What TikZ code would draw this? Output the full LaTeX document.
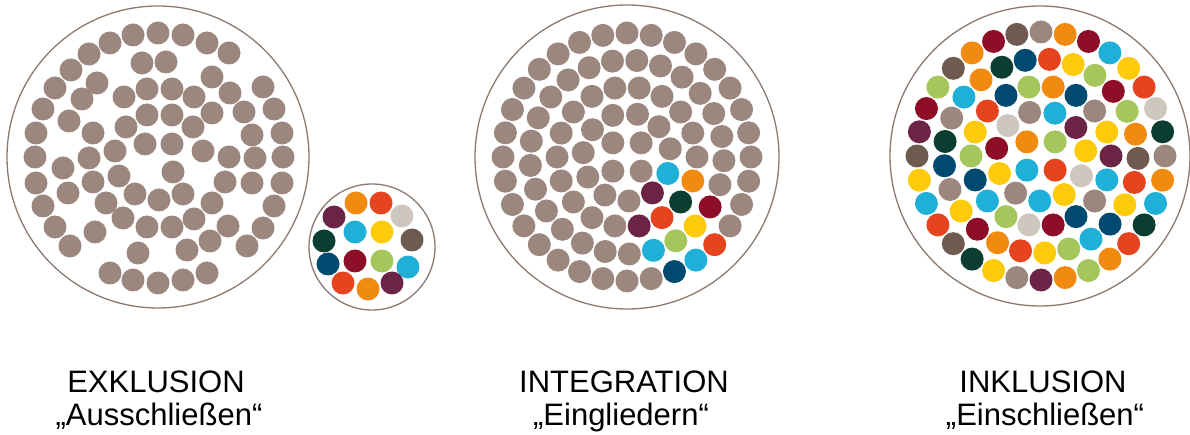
\documentclass[tikz,border=0pt]{standalone}
\usepackage{fontspec}
\setmainfont{Liberation Sans}
\definecolor{rim}{HTML}{8C7A70}
\definecolor{tp}{HTML}{9B877D}
\definecolor{og}{HTML}{F18A10}
\definecolor{ro}{HTML}{E5441F}
\definecolor{cy}{HTML}{1EB0D6}
\definecolor{yl}{HTML}{FDCB0C}
\definecolor{gn}{HTML}{A5C65A}
\definecolor{nv}{HTML}{004A72}
\definecolor{dg}{HTML}{0B3D30}
\definecolor{cr}{HTML}{8E0E28}
\definecolor{pl}{HTML}{6B2446}
\definecolor{lg}{HTML}{CEC7BD}
\definecolor{db}{HTML}{6E5A4E}

% one ring of dots: centre x, centre y, radius, count, start angle, colours
\newcommand\dotring[6]{%
  \foreach \col [count=\k from 0] in {#6}
    \fill[\col] ({#1+#3*cos(#5-\k*360/#4)},{#2-#3*sin(#5-\k*360/#4)}) circle (11.5);
}

\begin{document}
\begin{tikzpicture}[x=1pt, y=-1pt,
    rimline/.style={draw=rim, line width=1.3pt},
    caption/.style={anchor=base, inner sep=0pt, font=\fontsize{31}{36}\selectfont}]
    \useasboundingbox[fill=white] (0,0) rectangle (1190,435);

    % Draw the big circle of the excluded group
    \draw[rimline] (158,157) circle (151);
    \foreach \x/\y in {110/43, 133/35, 158/33, 183/35, 207/43, 229/53, 89/54, 142/63,
        166/62, 71/70, 212/77, 97/83, 55/88, 147/89, 172/89, 263/87, 230/93, 82/99,
        124/97, 194/97, 43/109, 274/109, 147/115, 172/115, 212/113, 244/112, 69/121,
        126/127, 193/127, 36/133, 93/133, 252/135, 282/133, 145/144, 172/144, 115/151,
        203/151, 35/157, 89/158, 229/157, 255/158, 283/157, 63/168, 173/172, 119/176,
        36/183, 93/182, 225/182, 252/183, 282/183, 68/193, 135/194, 183/194, 159/200,
        43/206, 106/203, 212/203, 274/206, 123/218, 194/219, 55/227, 147/227, 172/227,
        228/226, 263/228, 95/232, 210/241, 70/246, 247/246, 138/253, 187/250, 110/273,
        133/280, 158/283, 183/280, 207/273}
        \fill[tp] (\x,\y) circle (11.5);

    % Draw the small circle with the coloured dots outside
    \draw[rimline] (372,247) circle (63);
    \foreach \x/\y/\col in {356/203/og, 381/203/ro, 334/217/pl, 402/216/lg, 355/232/cy,
        382/232/yl, 324/241/dg, 412/240/db, 328/264/nv, 355/261/cr, 382/261/gn,
        408/267/cy, 343/283/ro, 368/289/og, 392/283/pl}
        \fill[\col] (\x,\y) circle (11.5);

    % Draw the integration circle: rings of dots, a coloured group in one corner
    \draw[rimline] (627,157) circle (152);
    \dotring{627}{157}{124}{32}{90}{tp,tp,tp,tp,tp,tp,tp,tp,tp,tp,tp,tp,ro,cy,nv,tp,
        tp,tp,tp,tp,tp,tp,tp,tp,tp,tp,tp,tp,tp,tp,tp,tp}
    \dotring{627}{157}{97}{25}{84.2}{tp,tp,tp,tp,tp,tp,tp,tp,cr,yl,gn,cy,tp,tp,tp,tp,
        tp,tp,tp,tp,tp,tp,tp,tp,tp}
    \dotring{627}{157}{70}{18}{80}{tp,tp,tp,tp,tp,og,dg,ro,pl,tp,tp,tp,tp,tp,tp,tp,tp,tp}
    \dotring{627}{157}{44}{11}{76.2}{tp,tp,tp,cy,pl,tp,tp,tp,tp,tp,tp}
    \dotring{627}{157}{20}{4}{45}{tp,tp,tp,tp}

    % Draw the inclusion circle: all colours mixed
    \draw[rimline] (1040,156) circle (150);
    \dotring{1041}{156}{124}{32}{90}{tp,og,cr,cy,yl,ro,lg,dg,tp,og,cy,dg,ro,og,gn,og,
        pl,tp,yl,dg,db,ro,cy,yl,db,pl,cr,gn,db,og,cr,db}
    \dotring{1041}{156}{97}{25}{85}{ro,yl,gn,cr,gn,og,db,ro,yl,nv,cy,gn,yl,ro,og,cr,
        yl,tp,nv,dg,tp,cy,og,dg,nv}
    \dotring{1041}{156}{70}{18}{80}{og,nv,tp,yl,pl,cy,tp,nv,cr,lg,gn,cy,nv,gn,yl,ro,nv,gn}
    \dotring{1041}{156}{45}{11}{72}{cy,pl,yl,lg,yl,cy,tp,yl,cr,lg,tp}
    \dotring{1041}{156}{20}{4}{135}{og,gn,ro,cy}

    % Captions
    \node[caption] (exkl) at (156,392) {EXKLUSION};
    \node[caption] (exklde) at (159,425) {„Ausschließen“};
    \node[caption] (integ) at (624,392) {INTEGRATION};
    \node[caption] (integde) at (621,425) {„Eingliedern“};
    \node[caption] (inkl) at (1043,392) {INKLUSION};
    \node[caption] (inklde) at (1045,425) {„Einschließen“};
\end{tikzpicture}
\end{document}
